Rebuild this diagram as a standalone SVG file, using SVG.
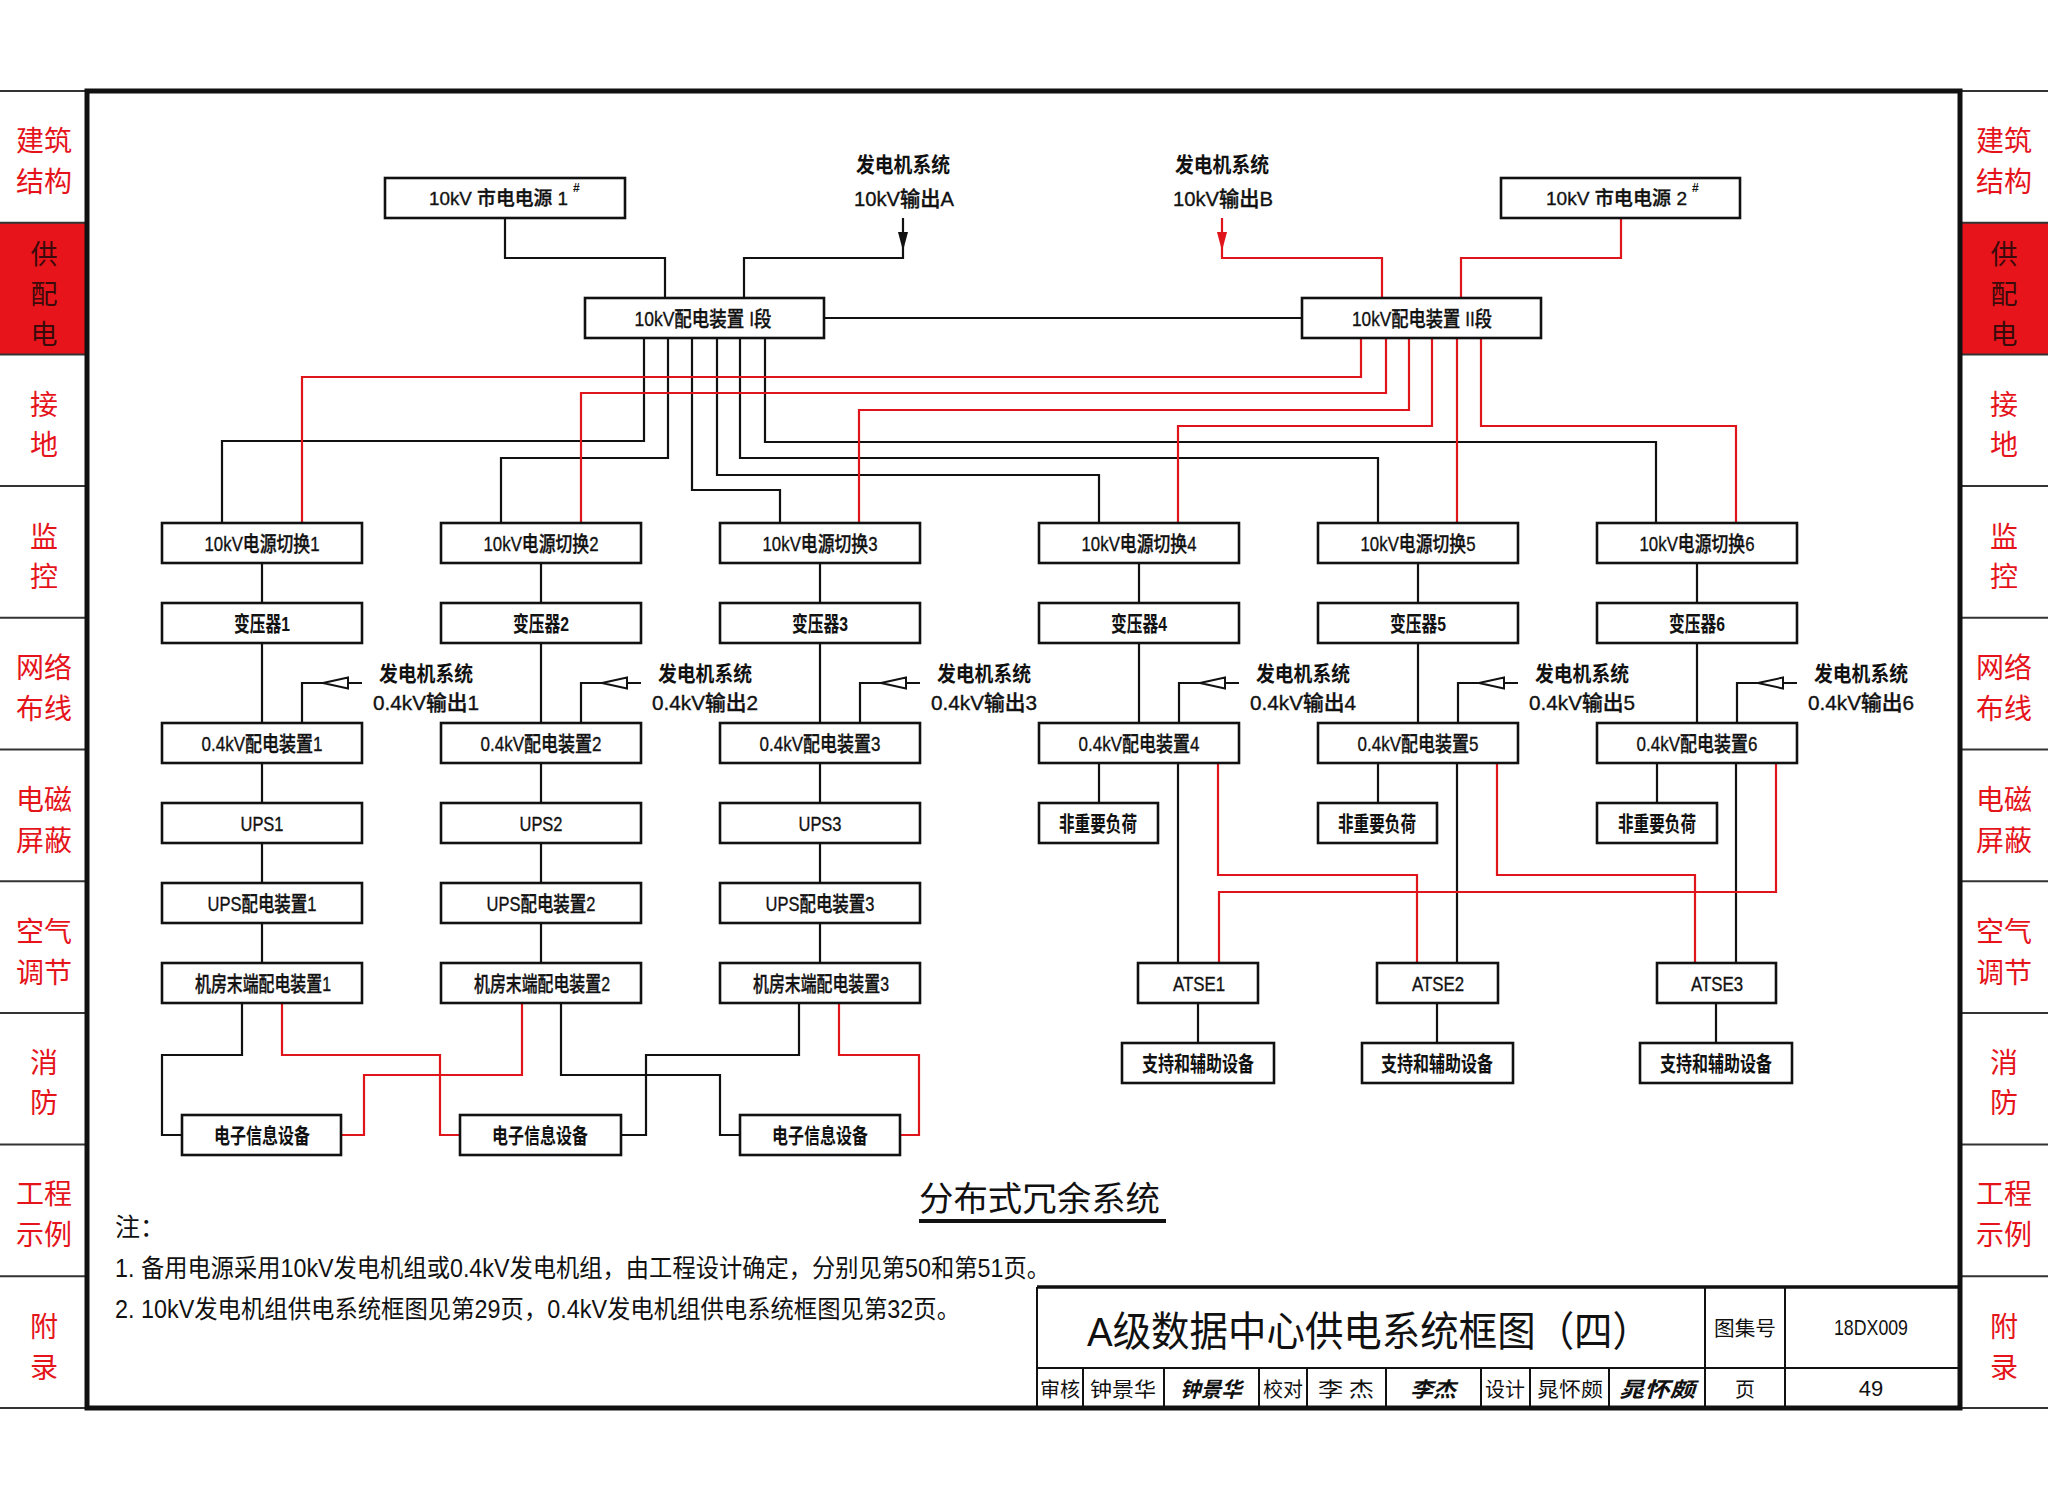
<svg xmlns="http://www.w3.org/2000/svg" width="2048" height="1497" viewBox="0 0 2048 1497">
<defs>
<style>
text{font-family:"Liberation Sans","Noto Sans CJK SC",sans-serif;fill:#111}
.box{fill:#fff;stroke:#111;stroke-width:2.6}
.w{fill:none;stroke:#111;stroke-width:2.2}
.r{fill:none;stroke:#e0141b;stroke-width:2.2}
.lb{font-size:21px;text-anchor:middle;dominant-baseline:central;font-weight:500;stroke:#111;stroke-width:0.35}
.b{font-weight:bold;stroke:none}
.side{font-family:"Noto Sans CJK SC",sans-serif;font-size:28px;fill:#e5141b;text-anchor:middle;dominant-baseline:central}
.sideD{font-family:"Noto Sans CJK SC",sans-serif;font-size:27px;fill:#3b0a0a;text-anchor:middle;dominant-baseline:central}
.sep{stroke:#333;stroke-width:2}
.tb{fill:none;stroke:#111;stroke-width:2}
.tt{font-family:"Noto Sans CJK SC",sans-serif;font-size:20px;text-anchor:middle;dominant-baseline:central}
.sig{font-family:"Noto Sans CJK SC",sans-serif;font-size:21px;text-anchor:middle;dominant-baseline:central;font-weight:bold;font-style:italic}
.note{font-size:25px}
.tri{fill:#fff;stroke:#111;stroke-width:2}
</style>
</defs>
<rect width="2048" height="1497" fill="#fff"/>

<!-- sidebars -->
<g id="sidebar-left">
<rect x="0" y="222.7" width="85" height="131.7" fill="#e8141c"/>
<g class="sep">
<line x1="0" y1="91" x2="87" y2="91"/><line x1="0" y1="222.7" x2="87" y2="222.7"/><line x1="0" y1="354.4" x2="87" y2="354.4"/><line x1="0" y1="486" x2="87" y2="486"/><line x1="0" y1="617.8" x2="87" y2="617.8"/><line x1="0" y1="749.5" x2="87" y2="749.5"/><line x1="0" y1="881.2" x2="87" y2="881.2"/><line x1="0" y1="1012.9" x2="87" y2="1012.9"/><line x1="0" y1="1144.6" x2="87" y2="1144.6"/><line x1="0" y1="1276.3" x2="87" y2="1276.3"/><line x1="0" y1="1408" x2="87" y2="1408"/>
</g>
<text class="side" x="44" y="139">建筑</text><text class="side" x="44" y="180">结构</text>
<text class="sideD" x="44" y="252">供</text><text class="sideD" x="44" y="292">配</text><text class="sideD" x="44" y="332">电</text>
<text class="side" x="44" y="403">接</text><text class="side" x="44" y="443">地</text>
<text class="side" x="44" y="535">监</text><text class="side" x="44" y="575">控</text>
<text class="side" x="44" y="666">网络</text><text class="side" x="44" y="707">布线</text>
<text class="side" x="44" y="798">电磁</text><text class="side" x="44" y="839">屏蔽</text>
<text class="side" x="44" y="930">空气</text><text class="side" x="44" y="971">调节</text>
<text class="side" x="44" y="1061">消</text><text class="side" x="44" y="1101">防</text>
<text class="side" x="44" y="1192">工程</text><text class="side" x="44" y="1233">示例</text>
<text class="side" x="44" y="1325">附</text><text class="side" x="44" y="1366">录</text>
</g>
<g id="sidebar-right">
<rect x="1962" y="222.7" width="86" height="131.7" fill="#e8141c"/>
<g class="sep">
<line x1="1960" y1="91" x2="2048" y2="91"/><line x1="1960" y1="222.7" x2="2048" y2="222.7"/><line x1="1960" y1="354.4" x2="2048" y2="354.4"/><line x1="1960" y1="486" x2="2048" y2="486"/><line x1="1960" y1="617.8" x2="2048" y2="617.8"/><line x1="1960" y1="749.5" x2="2048" y2="749.5"/><line x1="1960" y1="881.2" x2="2048" y2="881.2"/><line x1="1960" y1="1012.9" x2="2048" y2="1012.9"/><line x1="1960" y1="1144.6" x2="2048" y2="1144.6"/><line x1="1960" y1="1276.3" x2="2048" y2="1276.3"/><line x1="1960" y1="1408" x2="2048" y2="1408"/>
</g>
<text class="side" x="2004" y="139">建筑</text><text class="side" x="2004" y="180">结构</text>
<text class="sideD" x="2004" y="252">供</text><text class="sideD" x="2004" y="292">配</text><text class="sideD" x="2004" y="332">电</text>
<text class="side" x="2004" y="403">接</text><text class="side" x="2004" y="443">地</text>
<text class="side" x="2004" y="535">监</text><text class="side" x="2004" y="575">控</text>
<text class="side" x="2004" y="666">网络</text><text class="side" x="2004" y="707">布线</text>
<text class="side" x="2004" y="798">电磁</text><text class="side" x="2004" y="839">屏蔽</text>
<text class="side" x="2004" y="930">空气</text><text class="side" x="2004" y="971">调节</text>
<text class="side" x="2004" y="1061">消</text><text class="side" x="2004" y="1101">防</text>
<text class="side" x="2004" y="1192">工程</text><text class="side" x="2004" y="1233">示例</text>
<text class="side" x="2004" y="1325">附</text><text class="side" x="2004" y="1366">录</text>
</g>

<!-- frame -->
<rect x="87" y="91" width="1873" height="1317" fill="none" stroke="#111" stroke-width="5"/>

<!-- connectors -->
<g id="connectors">
<path class="w" d="M505 218V258H665V298"/>
<path class="w" d="M903 218V258H744V298"/>
<polygon points="903,251 898,232 908,232" fill="#111"/>
<path class="w" d="M824 318H1302"/>
<path class="w" d="M644 338V441H222V523"/>
<path class="w" d="M668 338V458H501V523"/>
<path class="w" d="M692 338V490H780V523"/>
<path class="w" d="M717 338V475H1099V523"/>
<path class="w" d="M740 338V458H1378V523"/>
<path class="w" d="M765 338V442H1656V523"/>
<path class="r" d="M1222 218V258H1382V298"/>
<polygon points="1222,251 1217,232 1227,232" fill="#e0141b"/>
<path class="r" d="M1621 218V258H1461V298"/>
<path class="r" d="M1361 338V377H302V523"/>
<path class="r" d="M1386 338V393H581V523"/>
<path class="r" d="M1409 338V410H859V523"/>
<path class="r" d="M1432 338V426H1178V523"/>
<path class="r" d="M1457 338V523"/>
<path class="r" d="M1481 338V426H1736V523"/>
<path class="w" d="M262 563V603M262 643V723M262 763V803M262 843V883M262 923V963"/>
<path class="w" d="M541 563V603M541 643V723M541 763V803M541 843V883M541 923V963"/>
<path class="w" d="M820 563V603M820 643V723M820 763V803M820 843V883M820 923V963"/>
<path class="w" d="M1139 563V603M1139 643V723M1099 763V803"/>
<path class="w" d="M1418 563V603M1418 643V723M1378 763V803"/>
<path class="w" d="M1697 563V603M1697 643V723M1657 763V803"/>
<path class="w" d="M302 723V683H362"/><polygon class="tri" points="323,683 348,677.5 348,688.5"/>
<path class="w" d="M581 723V683H641"/><polygon class="tri" points="602,683 627,677.5 627,688.5"/>
<path class="w" d="M860 723V683H920"/><polygon class="tri" points="881,683 906,677.5 906,688.5"/>
<path class="w" d="M1179 723V683H1239"/><polygon class="tri" points="1200,683 1225,677.5 1225,688.5"/>
<path class="w" d="M1458 723V683H1518"/><polygon class="tri" points="1479,683 1504,677.5 1504,688.5"/>
<path class="w" d="M1737 723V683H1797"/><polygon class="tri" points="1758,683 1783,677.5 1783,688.5"/>
<path class="w" d="M1178 763V963M1457 763V963M1736 763V963"/>
<path class="r" d="M1218 763V875H1417V963"/>
<path class="r" d="M1497 763V875H1695V963"/>
<path class="r" d="M1776 763V892H1219V963"/>
<path class="w" d="M1198 1003V1043M1437 1003V1043M1716 1003V1043"/>
<path class="w" d="M242 1003V1055H162V1135H182"/>
<path class="r" d="M282 1003V1055H440V1135H460"/>
<path class="r" d="M522 1003V1075H364V1135H341"/>
<path class="w" d="M561 1003V1075H720V1135H740"/>
<path class="w" d="M799 1003V1055H646V1135H621"/>
<path class="r" d="M839 1003V1055H919V1135H900"/>
</g>

<!-- top nodes -->
<g id="src1"><rect class="box" x="385" y="178" width="240" height="40"/>
<text class="lb" x="429" y="198" style="text-anchor:start;font-size:19px" textLength="139" lengthAdjust="spacingAndGlyphs">10kV 市电电源 1</text>
<text x="573" y="192" font-size="12" font-weight="bold">#</text></g>
<g id="src2"><rect class="box" x="1501" y="178" width="239" height="40"/>
<text class="lb" x="1546" y="198" style="text-anchor:start;font-size:19px" textLength="141" lengthAdjust="spacingAndGlyphs">10kV 市电电源 2</text>
<text x="1692" y="192" font-size="12" font-weight="bold">#</text></g>
<g id="genA"><text class="lb b" x="903" y="164" textLength="94" lengthAdjust="spacingAndGlyphs">发电机系统</text>
<text class="lb" x="904" y="198" textLength="100" lengthAdjust="spacingAndGlyphs">10kV输出A</text></g>
<g id="genB"><text class="lb b" x="1222" y="164" textLength="94" lengthAdjust="spacingAndGlyphs">发电机系统</text>
<text class="lb" x="1223" y="198" textLength="100" lengthAdjust="spacingAndGlyphs">10kV输出B</text></g>
<g id="bus1"><rect class="box" x="585" y="298" width="239" height="40"/>
<text class="lb" x="703" y="318" textLength="137" lengthAdjust="spacingAndGlyphs">10kV配电装置  I段</text></g>
<g id="bus2"><rect class="box" x="1302" y="298" width="239" height="40"/>
<text class="lb" x="1422" y="318" textLength="140" lengthAdjust="spacingAndGlyphs">10kV配电装置  II段</text></g>

<!-- column 1 -->
<g id="sw1"><rect class="box" x="162" y="523" width="200" height="40"/><text class="lb" x="262" y="543" textLength="115" lengthAdjust="spacingAndGlyphs">10kV电源切换1</text></g>
<g id="tr1"><rect class="box" x="162" y="603" width="200" height="40"/><text class="lb b" x="262" y="623" textLength="56" lengthAdjust="spacingAndGlyphs">变压器1</text></g>
<g id="gen1"><text class="lb b" x="426" y="673" textLength="94" lengthAdjust="spacingAndGlyphs">发电机系统</text><text class="lb" x="426" y="702" textLength="106" lengthAdjust="spacingAndGlyphs">0.4kV输出1</text></g>
<g id="lv1"><rect class="box" x="162" y="723" width="200" height="40"/><text class="lb" x="262" y="743" textLength="121" lengthAdjust="spacingAndGlyphs">0.4kV配电装置1</text></g>
<g id="ups1"><rect class="box" x="162" y="803" width="200" height="40"/><text class="lb" x="262" y="823" textLength="43" lengthAdjust="spacingAndGlyphs">UPS1</text></g>
<g id="upsd1"><rect class="box" x="162" y="883" width="200" height="40"/><text class="lb" x="262" y="903" textLength="109" lengthAdjust="spacingAndGlyphs">UPS配电装置1</text></g>
<g id="room1"><rect class="box" x="162" y="963" width="200" height="40"/><text class="lb" x="263" y="983" textLength="136" lengthAdjust="spacingAndGlyphs">机房末端配电装置1</text></g>
<g id="it1"><rect class="box" x="182" y="1115" width="159" height="40"/><text class="lb b" x="262" y="1135" textLength="96" lengthAdjust="spacingAndGlyphs">电子信息设备</text></g>

<!-- column 2 -->
<g id="sw2"><rect class="box" x="441" y="523" width="200" height="40"/><text class="lb" x="541" y="543" textLength="115" lengthAdjust="spacingAndGlyphs">10kV电源切换2</text></g>
<g id="tr2"><rect class="box" x="441" y="603" width="200" height="40"/><text class="lb b" x="541" y="623" textLength="56" lengthAdjust="spacingAndGlyphs">变压器2</text></g>
<g id="gen2"><text class="lb b" x="705" y="673" textLength="94" lengthAdjust="spacingAndGlyphs">发电机系统</text><text class="lb" x="705" y="702" textLength="106" lengthAdjust="spacingAndGlyphs">0.4kV输出2</text></g>
<g id="lv2"><rect class="box" x="441" y="723" width="200" height="40"/><text class="lb" x="541" y="743" textLength="121" lengthAdjust="spacingAndGlyphs">0.4kV配电装置2</text></g>
<g id="ups2"><rect class="box" x="441" y="803" width="200" height="40"/><text class="lb" x="541" y="823" textLength="43" lengthAdjust="spacingAndGlyphs">UPS2</text></g>
<g id="upsd2"><rect class="box" x="441" y="883" width="200" height="40"/><text class="lb" x="541" y="903" textLength="109" lengthAdjust="spacingAndGlyphs">UPS配电装置2</text></g>
<g id="room2"><rect class="box" x="441" y="963" width="200" height="40"/><text class="lb" x="542" y="983" textLength="136" lengthAdjust="spacingAndGlyphs">机房末端配电装置2</text></g>
<g id="it2"><rect class="box" x="460" y="1115" width="161" height="40"/><text class="lb b" x="540" y="1135" textLength="96" lengthAdjust="spacingAndGlyphs">电子信息设备</text></g>

<!-- column 3 -->
<g id="sw3"><rect class="box" x="720" y="523" width="200" height="40"/><text class="lb" x="820" y="543" textLength="115" lengthAdjust="spacingAndGlyphs">10kV电源切换3</text></g>
<g id="tr3"><rect class="box" x="720" y="603" width="200" height="40"/><text class="lb b" x="820" y="623" textLength="56" lengthAdjust="spacingAndGlyphs">变压器3</text></g>
<g id="gen3"><text class="lb b" x="984" y="673" textLength="94" lengthAdjust="spacingAndGlyphs">发电机系统</text><text class="lb" x="984" y="702" textLength="106" lengthAdjust="spacingAndGlyphs">0.4kV输出3</text></g>
<g id="lv3"><rect class="box" x="720" y="723" width="200" height="40"/><text class="lb" x="820" y="743" textLength="121" lengthAdjust="spacingAndGlyphs">0.4kV配电装置3</text></g>
<g id="ups3"><rect class="box" x="720" y="803" width="200" height="40"/><text class="lb" x="820" y="823" textLength="43" lengthAdjust="spacingAndGlyphs">UPS3</text></g>
<g id="upsd3"><rect class="box" x="720" y="883" width="200" height="40"/><text class="lb" x="820" y="903" textLength="109" lengthAdjust="spacingAndGlyphs">UPS配电装置3</text></g>
<g id="room3"><rect class="box" x="720" y="963" width="200" height="40"/><text class="lb" x="821" y="983" textLength="136" lengthAdjust="spacingAndGlyphs">机房末端配电装置3</text></g>
<g id="it3"><rect class="box" x="740" y="1115" width="160" height="40"/><text class="lb b" x="820" y="1135" textLength="96" lengthAdjust="spacingAndGlyphs">电子信息设备</text></g>

<!-- column 4 -->
<g id="sw4"><rect class="box" x="1039" y="523" width="200" height="40"/><text class="lb" x="1139" y="543" textLength="115" lengthAdjust="spacingAndGlyphs">10kV电源切换4</text></g>
<g id="tr4"><rect class="box" x="1039" y="603" width="200" height="40"/><text class="lb b" x="1139" y="623" textLength="56" lengthAdjust="spacingAndGlyphs">变压器4</text></g>
<g id="gen4"><text class="lb b" x="1303" y="673" textLength="94" lengthAdjust="spacingAndGlyphs">发电机系统</text><text class="lb" x="1303" y="702" textLength="106" lengthAdjust="spacingAndGlyphs">0.4kV输出4</text></g>
<g id="lv4"><rect class="box" x="1039" y="723" width="200" height="40"/><text class="lb" x="1139" y="743" textLength="121" lengthAdjust="spacingAndGlyphs">0.4kV配电装置4</text></g>
<g id="nl4"><rect class="box" x="1039" y="803" width="119" height="40"/><text class="lb b" x="1098" y="823" textLength="78" lengthAdjust="spacingAndGlyphs">非重要负荷</text></g>
<g id="atse1"><rect class="box" x="1138" y="963" width="120" height="40"/><text class="lb" x="1199" y="983" textLength="52" lengthAdjust="spacingAndGlyphs">ATSE1</text></g>
<g id="aux1"><rect class="box" x="1122" y="1043" width="152" height="40"/><text class="lb b" x="1198" y="1063" textLength="112" lengthAdjust="spacingAndGlyphs">支持和辅助设备</text></g>

<!-- column 5 -->
<g id="sw5"><rect class="box" x="1318" y="523" width="200" height="40"/><text class="lb" x="1418" y="543" textLength="115" lengthAdjust="spacingAndGlyphs">10kV电源切换5</text></g>
<g id="tr5"><rect class="box" x="1318" y="603" width="200" height="40"/><text class="lb b" x="1418" y="623" textLength="56" lengthAdjust="spacingAndGlyphs">变压器5</text></g>
<g id="gen5"><text class="lb b" x="1582" y="673" textLength="94" lengthAdjust="spacingAndGlyphs">发电机系统</text><text class="lb" x="1582" y="702" textLength="106" lengthAdjust="spacingAndGlyphs">0.4kV输出5</text></g>
<g id="lv5"><rect class="box" x="1318" y="723" width="200" height="40"/><text class="lb" x="1418" y="743" textLength="121" lengthAdjust="spacingAndGlyphs">0.4kV配电装置5</text></g>
<g id="nl5"><rect class="box" x="1318" y="803" width="119" height="40"/><text class="lb b" x="1377" y="823" textLength="78" lengthAdjust="spacingAndGlyphs">非重要负荷</text></g>
<g id="atse2"><rect class="box" x="1377" y="963" width="121" height="40"/><text class="lb" x="1438" y="983" textLength="52" lengthAdjust="spacingAndGlyphs">ATSE2</text></g>
<g id="aux2"><rect class="box" x="1362" y="1043" width="151" height="40"/><text class="lb b" x="1437" y="1063" textLength="112" lengthAdjust="spacingAndGlyphs">支持和辅助设备</text></g>

<!-- column 6 -->
<g id="sw6"><rect class="box" x="1597" y="523" width="200" height="40"/><text class="lb" x="1697" y="543" textLength="115" lengthAdjust="spacingAndGlyphs">10kV电源切换6</text></g>
<g id="tr6"><rect class="box" x="1597" y="603" width="200" height="40"/><text class="lb b" x="1697" y="623" textLength="56" lengthAdjust="spacingAndGlyphs">变压器6</text></g>
<g id="gen6"><text class="lb b" x="1861" y="673" textLength="94" lengthAdjust="spacingAndGlyphs">发电机系统</text><text class="lb" x="1861" y="702" textLength="106" lengthAdjust="spacingAndGlyphs">0.4kV输出6</text></g>
<g id="lv6"><rect class="box" x="1597" y="723" width="200" height="40"/><text class="lb" x="1697" y="743" textLength="121" lengthAdjust="spacingAndGlyphs">0.4kV配电装置6</text></g>
<g id="nl6"><rect class="box" x="1597" y="803" width="120" height="40"/><text class="lb b" x="1657" y="823" textLength="78" lengthAdjust="spacingAndGlyphs">非重要负荷</text></g>
<g id="atse3"><rect class="box" x="1657" y="963" width="119" height="40"/><text class="lb" x="1717" y="983" textLength="52" lengthAdjust="spacingAndGlyphs">ATSE3</text></g>
<g id="aux3"><rect class="box" x="1640" y="1043" width="152" height="40"/><text class="lb b" x="1716" y="1063" textLength="112" lengthAdjust="spacingAndGlyphs">支持和辅助设备</text></g>

<!-- caption and notes -->
<g id="caption">
<text x="919" y="1211" font-size="34" textLength="241" lengthAdjust="spacingAndGlyphs">分布式冗余系统</text>
<rect x="919" y="1219" width="247" height="4" fill="#111"/>
</g>
<g id="notes">
<text class="note" x="115" y="1236">注：</text>
<text class="note" x="115" y="1277" textLength="935" lengthAdjust="spacingAndGlyphs">1. 备用电源采用10kV发电机组或0.4kV发电机组，由工程设计确定，分别见第50和第51页。</text>
<text class="note" x="115" y="1318" textLength="845" lengthAdjust="spacingAndGlyphs">2. 10kV发电机组供电系统框图见第29页，0.4kV发电机组供电系统框图见第32页。</text>
</g>

<!-- title block -->
<g id="titleblock">
<path d="M1037 1287H1960" stroke="#111" stroke-width="3.5" fill="none"/>
<path class="tb" d="M1037 1287V1407M1037 1368H1960M1705 1287V1407M1785 1287V1407M1083 1368V1407M1164 1368V1407M1259 1368V1407M1307 1368V1407M1386 1368V1407M1481 1368V1407M1530 1368V1407M1609 1368V1407"/>
<text x="1369" y="1346" font-size="41" text-anchor="middle" textLength="564" lengthAdjust="spacingAndGlyphs" font-family="Noto Sans CJK SC, sans-serif">A级数据中心供电系统框图（四）</text>
<text class="tt" x="1745" y="1327" textLength="62" lengthAdjust="spacingAndGlyphs">图集号</text>
<text x="1871" y="1335" font-size="22" text-anchor="middle" font-family="Liberation Serif, serif" textLength="74" lengthAdjust="spacingAndGlyphs">18DX009</text>
<text class="tt" x="1060" y="1388" textLength="40" lengthAdjust="spacingAndGlyphs">审核</text>
<text class="tt" x="1123" y="1388" textLength="66" lengthAdjust="spacingAndGlyphs">钟景华</text>
<text class="sig" x="1211" y="1388" textLength="62" lengthAdjust="spacingAndGlyphs">钟景华</text>
<text class="tt" x="1283" y="1388" textLength="40" lengthAdjust="spacingAndGlyphs">校对</text>
<text class="tt" x="1346" y="1388" textLength="56" lengthAdjust="spacingAndGlyphs">李 杰</text>
<text class="sig" x="1433" y="1388" textLength="46" lengthAdjust="spacingAndGlyphs">李杰</text>
<text class="tt" x="1505" y="1388" textLength="40" lengthAdjust="spacingAndGlyphs">设计</text>
<text class="tt" x="1570" y="1388" textLength="66" lengthAdjust="spacingAndGlyphs">晁怀颇</text>
<text class="sig" x="1657" y="1388" textLength="76" lengthAdjust="spacingAndGlyphs">晁怀颇</text>
<text class="tt" x="1745" y="1388">页</text>
<text x="1871" y="1396" font-size="22" text-anchor="middle" font-family="Liberation Serif, serif">49</text>
</g>
</svg>
